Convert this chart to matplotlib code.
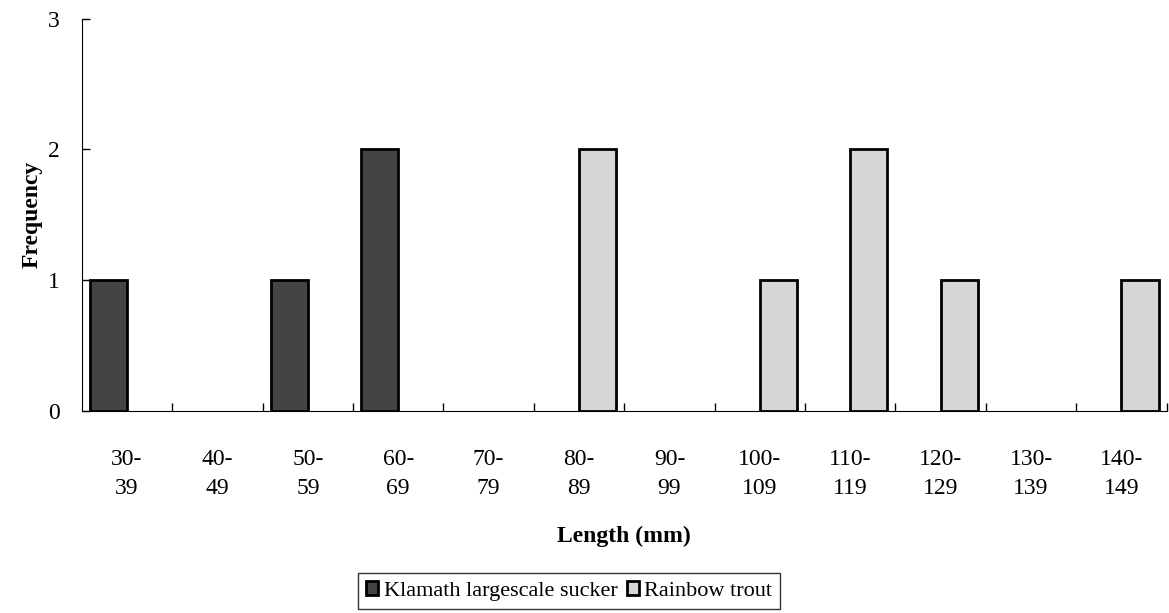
import numpy as np
import matplotlib.pyplot as plt

# DATA
bins = ['30-\n39', '40-\n49', '50-\n59', '60-\n69', '70-\n79', '80-\n89',
        '90-\n99', '100-\n109', '110-\n119', '120-\n129', '130-\n139', '140-\n149']
sucker = [1, 0, 1, 2, 0, 0, 0, 0, 0, 0, 0, 0]
trout = [0, 0, 0, 0, 0, 2, 0, 1, 2, 1, 0, 1]

plt.rcParams['font.family'] = ['Liberation Serif', 'DejaVu Serif']

fig = plt.figure(figsize=(11.69, 6.13), dpi=100)
ax = fig.add_axes([0.070, 0.3295, 0.928, 0.64])

x = np.arange(len(bins))
w = 0.41

# only draw the non-zero bars
xs = x[np.array(sucker) > 0]
ax.bar(xs - w / 2, np.array(sucker)[xs], w, color='#444444', edgecolor='black',
       linewidth=2, label='Klamath largescale sucker')
xt = x[np.array(trout) > 0]
ax.bar(xt + w / 2, np.array(trout)[xt], w, color='#d6d6d6', edgecolor='black',
       linewidth=2, label='Rainbow trout')

ax.set_xlim(-0.5, len(bins) - 0.5)
ax.set_ylim(0, 3)
ax.set_yticks([0, 1, 2, 3])
ax.set_xticks(x)
ax.set_xticklabels(bins, fontsize=17, linespacing=1.5)
ax.set_xticks(np.arange(0.5, len(bins), 1), minor=True)
ax.tick_params(axis='x', which='major', length=0, pad=27)
ax.tick_params(axis='x', which='minor', direction='in', length=6, width=1)
ax.tick_params(axis='y', direction='in', length=6, width=1, labelsize=17, pad=16)

ax.spines['top'].set_visible(False)
ax.spines['right'].set_visible(False)

ax.set_xlabel('Length (mm)', fontsize=17, fontweight='bold', labelpad=20)
ax.set_ylabel('Frequency', fontsize=17, fontweight='bold', labelpad=4)

leg = fig.legend(loc='lower center', bbox_to_anchor=(0.487, 0.0), ncol=2,
                 fontsize=16, frameon=True, fancybox=False, edgecolor='black',
                 handlelength=0.55, handleheight=0.55, handletextpad=0.25,
                 columnspacing=0.4, borderpad=0.35, borderaxespad=0.2)
leg.get_frame().set_linewidth(1)

fig.savefig('out.png', dpi=100)
